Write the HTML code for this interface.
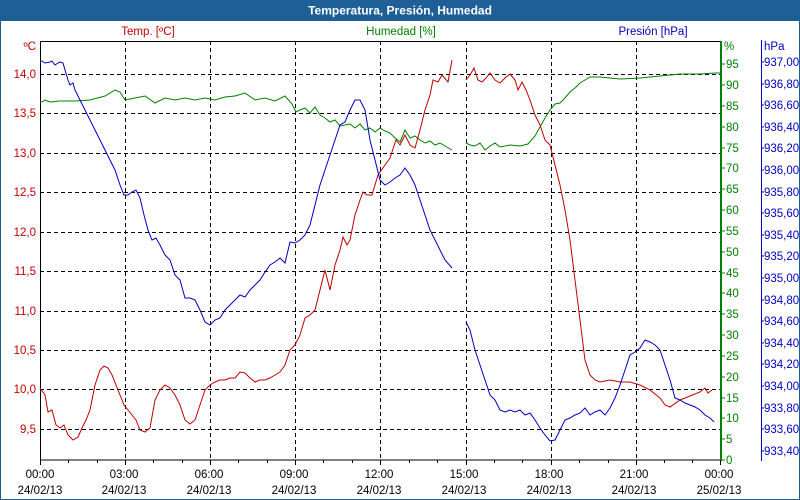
<!DOCTYPE html>
<html><head><meta charset="utf-8"><style>
html,body{margin:0;padding:0;background:#fff;}
svg{display:block;font-family:"Liberation Sans","DejaVu Sans",sans-serif;}
</style></head><body>
<svg width="800" height="500" viewBox="0 0 800 500" xmlns="http://www.w3.org/2000/svg">
<rect x="0" y="0" width="800" height="500" fill="#fff"/>
<rect x="0" y="0" width="800" height="20" fill="#1f5f98"/>
<text x="400" y="14.5" fill="#fff" font-size="12" font-weight="bold" text-anchor="middle">Temperatura, Presión, Humedad</text>
<rect x="0.5" y="20.5" width="799" height="479" fill="none" stroke="#1f5f98"/>
<g font-size="11.5">
<text x="148" y="35" fill="#c00000" text-anchor="middle">Temp. [ºC]</text>
<text x="401" y="35" fill="#008000" text-anchor="middle">Humedad [%]</text>
<text x="653" y="35" fill="#0000c0" text-anchor="middle">Presión [hPa]</text>
</g>
<!-- grid -->
<g stroke="#000" stroke-dasharray="4,3" stroke-width="1">
<line x1="125.5" y1="41" x2="125.5" y2="460"/><line x1="210.5" y1="41" x2="210.5" y2="460"/>
<line x1="295.5" y1="41" x2="295.5" y2="460"/><line x1="380.5" y1="41" x2="380.5" y2="460"/>
<line x1="466.5" y1="41" x2="466.5" y2="460"/><line x1="551.5" y1="41" x2="551.5" y2="460"/>
<line x1="636.5" y1="41" x2="636.5" y2="460"/>
<line x1="40" y1="74.5" x2="721" y2="74.5"/><line x1="40" y1="113.5" x2="721" y2="113.5"/>
<line x1="40" y1="153.5" x2="721" y2="153.5"/><line x1="40" y1="192.5" x2="721" y2="192.5"/>
<line x1="40" y1="232.5" x2="721" y2="232.5"/><line x1="40" y1="271.5" x2="721" y2="271.5"/>
<line x1="40" y1="311.5" x2="721" y2="311.5"/><line x1="40" y1="350.5" x2="721" y2="350.5"/>
<line x1="40" y1="389.5" x2="721" y2="389.5"/><line x1="40" y1="429.5" x2="721" y2="429.5"/>
</g>
<rect x="40.5" y="41.5" width="680" height="418.5" fill="none" stroke="#000"/>
<line x1="721" y1="41" x2="721" y2="461" stroke="#008000" stroke-width="2"/>
<line x1="761.5" y1="40" x2="761.5" y2="461" stroke="#0000c0"/>
<!-- left labels -->
<g font-size="11.5" fill="#c00000" text-anchor="end">
<text x="36" y="50">ºC</text>
<text x="36" y="78">14,0</text><text x="36" y="117">13,5</text><text x="36" y="157">13,0</text>
<text x="36" y="196">12,5</text><text x="36" y="236">12,0</text><text x="36" y="275">11,5</text>
<text x="36" y="315">11,0</text><text x="36" y="354">10,5</text><text x="36" y="393">10,0</text>
<text x="36" y="433">9,5</text>
</g>
<!-- humidity labels -->
<g font-size="11.5" fill="#008000">
<text x="724" y="50">%</text>
<text x="726" y="68">95</text><text x="726" y="89">90</text><text x="726" y="110">85</text>
<text x="726" y="131">80</text><text x="726" y="152">75</text><text x="726" y="172">70</text>
<text x="726" y="193">65</text><text x="726" y="214">60</text><text x="726" y="235">55</text>
<text x="726" y="256">50</text><text x="726" y="277">45</text><text x="726" y="297">40</text>
<text x="726" y="318">35</text><text x="726" y="339">30</text><text x="726" y="360">25</text>
<text x="726" y="381">20</text><text x="726" y="402">15</text><text x="726" y="422">10</text>
<text x="726" y="443">5</text><text x="726" y="464">0</text>
</g>
<g stroke="#008000">
<path d="M721 64h4M721 85h4M721 106h4M721 127h4M721 148h4M721 168h4M721 189h4M721 210h4M721 231h4M721 252h4M721 273h4M721 293h4M721 314h4M721 335h4M721 356h4M721 377h4M721 398h4M721 418h4M721 439h4M721 460h4"/>
</g>
<!-- pressure labels -->
<g font-size="11.5" fill="#0000c0">
<text x="764" y="50">hPa</text>
<text x="764" y="66">937,00</text><text x="764" y="88">936,80</text><text x="764" y="109">936,60</text>
<text x="764" y="131">936,40</text><text x="764" y="152">936,20</text><text x="764" y="174">936,00</text>
<text x="764" y="196">935,80</text><text x="764" y="217">935,60</text><text x="764" y="239">935,40</text>
<text x="764" y="260">935,20</text><text x="764" y="282">935,00</text><text x="764" y="304">934,80</text>
<text x="764" y="325">934,60</text><text x="764" y="347">934,40</text><text x="764" y="368">934,20</text>
<text x="764" y="390">934,00</text><text x="764" y="412">933,80</text><text x="764" y="433">933,60</text>
<text x="764" y="455">933,40</text>
</g>
<g stroke="#0000c0"><path d="M761 62h3M761 84h3M761 105h3M761 127h3M761 148h3M761 170h3M761 192h3M761 213h3M761 235h3M761 256h3M761 278h3M761 300h3M761 321h3M761 343h3M761 364h3M761 386h3M761 408h3M761 429h3M761 451h3"/></g>
<!-- x ticks -->
<g stroke="#000"><path d="M40.5 460v5M125.5 460v5M210.5 460v5M295.5 460v5M380.5 460v5M466.5 460v5M551.5 460v5M636.5 460v5M720.5 460v5"/>
<path d="M68.5 460v3M97.5 460v3M153.5 460v3M182.5 460v3M238.5 460v3M267.5 460v3M323.5 460v3M352.5 460v3M409.5 460v3M437.5 460v3M494.5 460v3M522.5 460v3M579.5 460v3M608.5 460v3M664.5 460v3M692.5 460v3"/></g>
<g font-size="11.5" fill="#000" text-anchor="middle">
<text x="40" y="478">00:00</text><text x="40" y="494">24/02/13</text>
<text x="124" y="478">03:00</text><text x="124" y="494">24/02/13</text>
<text x="209" y="478">06:00</text><text x="209" y="494">24/02/13</text>
<text x="294" y="478">09:00</text><text x="294" y="494">24/02/13</text>
<text x="379" y="478">12:00</text><text x="379" y="494">24/02/13</text>
<text x="464" y="478">15:00</text><text x="464" y="494">24/02/13</text>
<text x="549" y="478">18:00</text><text x="549" y="494">24/02/13</text>
<text x="634" y="478">21:00</text><text x="634" y="494">24/02/13</text>
<text x="719" y="478">00:00</text><text x="719" y="494">25/02/13</text>
</g>
<!-- series -->
<g fill="none" stroke-width="1">
<polyline stroke="#008000" points="40,103 45,100 50,102 60,101 75,101 90,100 105,96 115,90 120,92 125,100 135,98 145,96 155,103 165,98 175,100 185,98 195,100 205,98 215,100 225,97 235,96 245,93 255,100 265,98 275,101 285,96 292,104 296,112 300,110 305,108 310,113 315,107 320,115 325,118 330,122 335,120 340,126 345,125 350,124 355,128 360,124 365,130 370,128 375,132 380,128 385,131 390,133 395,138 400,142 405,130 410,138 415,136 420,140 425,143 430,141 435,145 440,143 445,146 452,150"/>
<polyline stroke="#008000" points="466,143 470,145 475,146 480,143 485,150 490,146 495,143 500,147 510,145 520,146 528,144 535,136 540,127 545,118 550,110 555,104 560,103 565,98 570,92 575,88 580,83 585,80 590,77 600,77 620,79 640,78 660,76 680,74 700,74 715,73 720,73"/>
<polyline stroke="#c00000" points="40,388 45,395 48,412 52,410 56,425 60,428 64,425 68,435 73,440 78,437 82,428 86,420 90,410 95,385 100,370 104,366 108,368 112,375 116,385 120,395 124,405 128,410 132,415 136,420 140,430 145,432 150,428 155,400 160,390 165,385 170,388 175,395 180,405 185,420 190,424 195,420 200,405 205,390 210,385 215,382 220,380 225,380 230,378 235,378 240,372 245,373 250,378 255,382 260,380 265,380 270,378 275,375 280,372 285,365 290,350 295,345 300,335 305,318 310,315 315,310 320,290 325,270 330,290 335,265 340,250 343,237 347,245 350,240 355,215 360,200 363,192 367,195 372,195 378,175 385,165 390,158 396,140 400,145 405,135 410,145 415,148 420,130 425,110 430,95 433,80 438,82 442,75 448,82 452,60"/>
<polyline stroke="#c00000" points="466,80 470,75 474,68 478,80 482,82 486,78 490,73 495,80 500,83 505,78 510,74 515,80 518,90 522,82 526,90 530,100 535,115 540,125 545,140 550,145 555,165 560,185 565,210 570,240 575,280 580,320 585,360 590,375 595,380 600,382 610,380 620,382 630,382 640,385 650,390 660,398 665,405 670,407 680,400 690,396 700,392 705,388 708,393 712,390"/>
<polyline stroke="#0000c0" points="40,60 45,63 50,62 52,61 55,65 58,63 60,62 63,63 65,70 68,80 70,85 73,83 75,90 80,100 85,110 90,120 95,130 100,140 105,150 110,160 115,170 120,185 124,195 128,195 132,192 136,190 140,198 144,215 148,230 152,240 156,238 160,245 165,255 170,260 175,275 180,280 185,298 190,298 195,300 200,310 205,322 210,325 215,320 220,318 225,310 230,305 235,300 240,295 245,297 250,290 255,285 260,280 265,272 270,265 275,262 280,258 285,263 290,242 295,243 300,240 305,235 310,225 315,205 320,185 325,170 330,155 335,140 340,125 345,122 350,110 355,100 360,100 365,110 370,140 375,160 380,180 385,185 390,182 395,178 400,175 405,168 410,175 415,185 420,200 425,215 430,230 435,240 440,250 445,260 452,268"/>
<polyline stroke="#0000c0" points="466,322 470,330 475,350 480,365 485,380 490,395 495,400 500,410 505,412 510,410 515,412 520,410 525,415 530,413 535,420 540,428 545,435 550,441 555,440 560,430 565,420 570,418 575,415 580,413 585,408 590,415 595,412 600,410 605,415 610,408 615,398 620,385 625,370 630,355 635,352 640,348 645,340 650,342 655,345 660,350 665,365 670,380 675,398 680,400 685,403 690,405 695,407 700,410 705,415 710,418 714,422"/>
</g>
</svg>
</body></html>
